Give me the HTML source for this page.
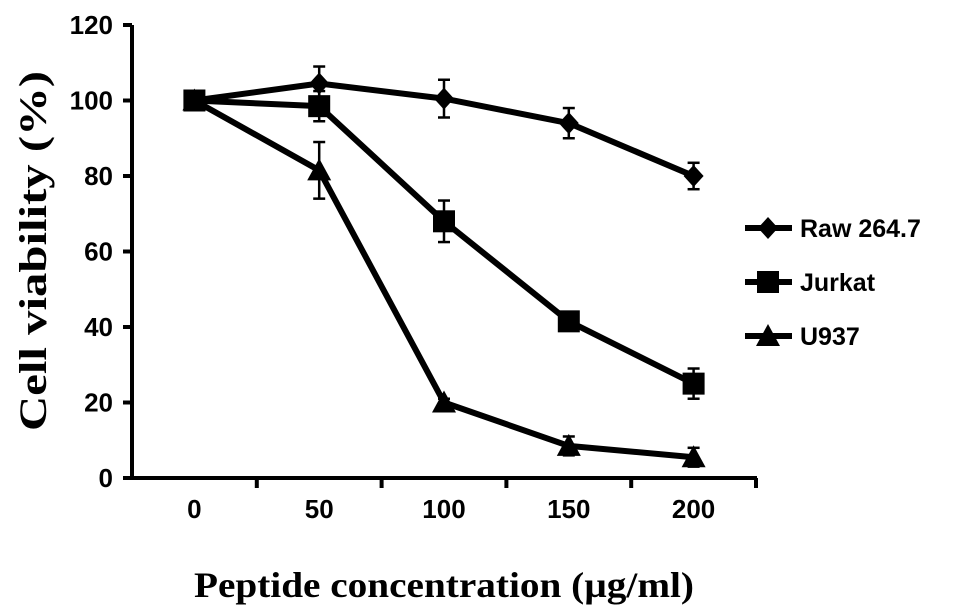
<!DOCTYPE html>
<html><head><meta charset="utf-8"><style>
body{margin:0;background:#fff}
svg text{font-family:"Liberation Sans",sans-serif;font-weight:bold;fill:#000}
.ttl{font-family:"Liberation Serif",serif;font-size:36px}
</style></head><body>
<svg width="969" height="607">
<g id="axes"></g><g id="series"></g><g id="legend"></g>
<text class="ttl" x="444" y="597" text-anchor="middle" textLength="500" lengthAdjust="spacingAndGlyphs">Peptide concentration (µg/ml)</text>
<text class="ttl" transform="translate(46,251) rotate(-90)" text-anchor="middle" textLength="360" lengthAdjust="spacingAndGlyphs" style="font-size:39px">Cell viability (%)</text>
</svg>
<script>
const categories=["0","50","100","150","200"];
const yTicks=[0,20,40,60,80,100,120];
const seriesNames=["Raw 264.7","Jurkat","U937"];
const raw=[100,104.5,100.5,94,80];
const rawErr=[0,4.5,5,4,3.5];
const jurkat=[100,98.5,68,41.5,25];
const jurkatErr=[0,4,5.5,1,4];
const u937=[100,81.5,20,8.5,5.5];
const u937Err=[0,7.5,1,2.5,2.5];
const NS="http://www.w3.org/2000/svg";
const X0=132,X1=756,Y0=478,Y1=25;
const bw=(X1-X0)/categories.length;
function xs(i){return X0+bw*(i+0.5);}
function ys(v){return Y0-(v/120)*(Y0-Y1);}
function mk(t,a,p){const e=document.createElementNS(NS,t);for(const k in a)e.setAttribute(k,a[k]);p.appendChild(e);return e;}
const ax=document.getElementById('axes');
let l=mk('line',{x1:X0,y1:Y1,x2:X0,y2:Y0+1,stroke:'#000','stroke-width':4},ax);

l=mk('line',{x1:X0,y1:Y0,x2:X1+1,y2:Y0,stroke:'#000','stroke-width':4},ax);

yTicks.forEach(v=>{
 mk('line',{x1:X0-9,y1:ys(v),x2:X0,y2:ys(v),stroke:'#000','stroke-width':4},ax);
 const t=mk('text',{x:X0-19,y:ys(v)+9,'text-anchor':'end','font-size':26},ax);t.textContent=v;
 
 
});
for(let i=1;i<=categories.length;i++){const x=X0+bw*i;mk('line',{x1:x,y1:Y0,x2:x,y2:Y0+10,stroke:'#000','stroke-width':4},ax);}
categories.forEach((c,i)=>{const t=mk('text',{x:xs(i),y:Y0+40,'text-anchor':'middle','font-size':26},ax);t.textContent=c;
 
 });
function marker(type,x,y,p){
 if(type==0)return mk('polygon',{points:`${x},${y-11} ${x+10},${y} ${x},${y+11} ${x-10},${y}`},p);
 if(type==1)return mk('rect',{x:x-11,y:y-11,width:22,height:22},p);
 return mk('polygon',{points:`${x},${y-12} ${x+12},${y+10} ${x-12},${y+10}`},p);
}
const sg=document.getElementById('series');
[[raw,rawErr],[jurkat,jurkatErr],[u937,u937Err]].forEach(([d,e],s)=>{
 const g=mk('g',{},sg);
 
 
 mk('polyline',{points:d.map((v,i)=>xs(i)+','+ys(v)).join(' '),fill:'none',stroke:'#000','stroke-width':6,'stroke-linejoin':'round'},g);
 d.forEach((v,i)=>{
  if(e[i]>0){const a=ys(v+e[i]),b=ys(v-e[i]);
   mk('line',{x1:xs(i),y1:a,x2:xs(i),y2:b,stroke:'#000','stroke-width':2.5},g);
   mk('line',{x1:xs(i)-6,y1:a,x2:xs(i)+6,y2:a,stroke:'#000','stroke-width':2.5},g);
   mk('line',{x1:xs(i)-6,y1:b,x2:xs(i)+6,y2:b,stroke:'#000','stroke-width':2.5},g);}
  const m=marker(s,xs(i),ys(v),g);
  
  
 });
});
const lg=document.getElementById('legend');
seriesNames.forEach((n,s)=>{
 const y=228+s*54;
 const g=mk('g',{},lg);
 
 
 mk('line',{x1:745,y1:y,x2:792,y2:y,stroke:'#000','stroke-width':6},g);
 marker(s,768,y,g);
 const t=mk('text',{x:800,y:y+9,'font-size':25},g);t.textContent=n;
});
</script>
</body></html>
